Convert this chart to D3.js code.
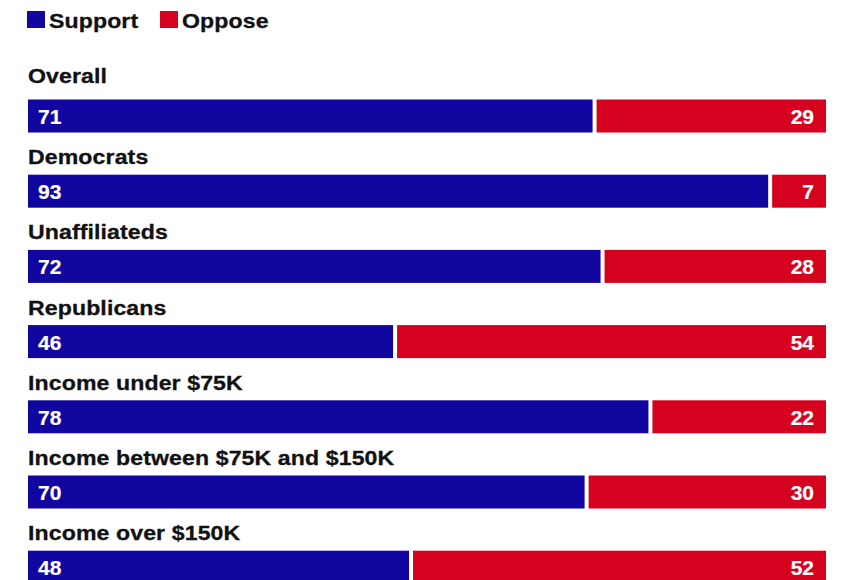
<!DOCTYPE html>
<html>
<head>
<meta charset="utf-8">
<script src="https://cdn.jsdelivr.net/npm/d3@7"></script>
<style>
  html, body { margin: 0; padding: 0; background: #fff; }
  svg { display: block; }
  text { font-family: "Liberation Sans", Arial, Helvetica, sans-serif; font-weight: bold; }
</style>
</head>
<body>
<div id="chart"></div>
<script>
// Survey groups and their support / oppose shares (percent)
const groups = ["Overall", "Democrats", "Unaffiliateds", "Republicans",
  "Income under $75K", "Income between $75K and $150K", "Income over $150K"];
const support = [71, 93, 72, 46, 78, 70, 48];
const oppose  = [29, 7, 28, 54, 22, 30, 52];
const seriesNames = ["Support", "Oppose"];
const seriesColors = ["#11069f", "#d6001f"];

const W = 849, H = 580;
const svg = d3.select("#chart").append("svg")
  .attr("width", W).attr("height", H);

const barH = 33;
const step = 75.2;
const gap = 2;
const n = groups.length;
const wide = 1.1; // horizontal stretch for the heavy display face

const x = d3.scaleLinear().domain([0, 100]).range([28, 826]);
// band of height barH, one row every `step` pixels
const pad = 1 - barH / step;
const y = d3.scaleBand().domain(groups)
  .range([99.5, 99.5 + step * (n - pad)])
  .paddingInner(pad).paddingOuter(0);

// Legend
const legend = svg.append("g");
const lx = [27, 160];
seriesNames.forEach((name, i) => {
  legend.append("rect").attr("x", lx[i]).attr("y", 11).attr("width", 18).attr("height", 17)
    .attr("fill", seriesColors[i]);
  legend.append("text")
    .attr("transform", `translate(${lx[i] + 22},28) scale(${wide},1)`)
    .attr("font-size", 21).attr("letter-spacing", 0.1)
    .attr("fill", "#111").attr("stroke", "#111").attr("stroke-width", 0.3)
    .text(name);
});

const rows = svg.append("g").selectAll("g").data(groups).join("g")
  .attr("transform", d => `translate(0,${y(d)})`);

// Group titles above each bar
rows.append("text")
  .attr("transform", (d, i) => `translate(28,${i === 0 ? -16.5 : -10.5}) scale(${wide},1)`)
  .attr("font-size", 21).attr("letter-spacing", 0.1)
  .attr("fill", "#111").attr("stroke", "#111").attr("stroke-width", 0.3)
  .text(d => d);

// Support segment
rows.append("rect")
  .attr("x", x(0)).attr("y", 0).attr("height", y.bandwidth())
  .attr("width", (d, i) => x(support[i]) - gap - x(0))
  .attr("fill", seriesColors[0]);

// Oppose segment
rows.append("rect")
  .attr("x", (d, i) => x(support[i]) + gap).attr("y", 0).attr("height", y.bandwidth())
  .attr("width", (d, i) => x(support[i] + oppose[i]) - x(support[i]) - gap)
  .attr("fill", seriesColors[1]);

// Value labels
rows.append("text")
  .attr("x", x(0) + 10).attr("y", 24.5)
  .attr("font-size", 21).attr("fill", "#fff")
  .attr("stroke", "#fff").attr("stroke-width", 0.2)
  .text((d, i) => support[i]);

rows.append("text")
  .attr("x", (d, i) => x(support[i] + oppose[i]) - 12).attr("y", 24.5)
  .attr("text-anchor", "end")
  .attr("font-size", 21).attr("fill", "#fff")
  .attr("stroke", "#fff").attr("stroke-width", 0.2)
  .text((d, i) => oppose[i]);
</script>
</body>
</html>
